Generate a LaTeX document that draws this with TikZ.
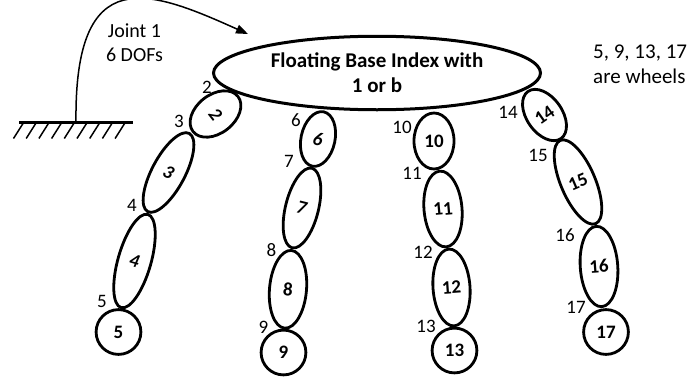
\documentclass[tikz,border=0pt]{standalone}
\usepackage{fontspec}
\setmainfont{Carlito}
\usetikzlibrary{shapes.geometric,arrows.meta}
\newcommand\myLbl{\fontsize{19}{23}\selectfont}
\newcommand\myNum{\fontsize{19}{23}\selectfont\bfseries}
\newcommand\myHead{\fontsize{21}{25}\selectfont\bfseries}
\newcommand\myNote{\fontsize{20}{23.5}\selectfont}
\newcommand\myWheel{\fontsize{21}{25}\selectfont}
\begin{document}
\begin{tikzpicture}[x=1pt,y=-1pt,
  link/.style={draw, ellipse, line width=2.8pt, inner sep=0pt, font=\myNum},
  wheel/.style={draw, circle, line width=2.8pt, inner sep=0pt, minimum size=44.8pt, font=\myNum},
  lbl/.style={inner sep=0pt, font=\myLbl},
  note/.style={inner sep=0pt, align=left},
  ground/.style={line width=2.6pt},
  hatch/.style={line width=1.5pt},
  joint/.style={line width=1.5pt, -{Triangle[length=12pt,width=9pt]}}
  ]
\useasboundingbox (0,0) rectangle (688,383);

% floating base
\node[draw, ellipse, line width=3pt, minimum width=327pt, minimum height=73.5pt,
      inner sep=0pt, align=center, font=\myHead] (base) at (377,73)
      {Floating Base Index with\\1 or b};

% ground and joint 1
\coordinate (gl) at (19,122.7);
\coordinate (gr) at (133,122.7);
\coordinate (gnd) at (76,122.7);
\coordinate (tip) at (248,34);
\draw[ground] (gl) -- (gr);
\foreach \i in {0,...,8}
  \draw[hatch] ({13.5+12.7*\i},138.5) -- ++(10,-15.8);
\draw[joint] (gnd) .. controls (74,-40) and (150,-10) .. (tip);
\node[note, font=\myNote, align=center] (jtext) at (134.5,42.5) {Joint 1\\6 DOFs};

% chain 1
\node[link, minimum width=38.5pt, minimum height=57pt, rotate=-52] (n2) at (215.5,114) {\textit{2}};
\node[link, minimum width=33pt, minimum height=88.5pt, rotate=-28] (n3) at (168.5,172.5) {\textit{3}};
\node[link, minimum width=33pt, minimum height=97pt, rotate=-16] (n4) at (134.5,261) {\textit{4}};
\node[wheel] (n5) at (118.5,332) {5};

% chain 2
\node[link, minimum width=34pt, minimum height=55.5pt, rotate=-12] (n6) at (318,139) {\textit{6}};
\node[link, minimum width=33pt, minimum height=82pt, rotate=-14] (n7) at (302,208) {\textit{7}};
\node[link, minimum width=37pt, minimum height=78pt, rotate=-5] (n8) at (288,289.3) {8};
\node[wheel] (n9) at (283.5,352.5) {9};

% chain 3
\node[link, minimum width=40pt, minimum height=56pt] (n10) at (434,141) {10};
\node[link, minimum width=38pt, minimum height=76pt, rotate=5] (n11) at (443,209) {11};
\node[link, minimum width=37pt, minimum height=77pt, rotate=4] (n12) at (451.5,287.5) {12};
\node[wheel] (n13) at (454.5,350.5) {13};

% chain 4
\node[link, minimum width=35.5pt, minimum height=57.5pt, rotate=35] (n14) at (544.5,115) {14};
\node[link, minimum width=34.5pt, minimum height=90.5pt, rotate=23] (n15) at (578,182) {15};
\node[link, minimum width=37.5pt, minimum height=80.5pt, rotate=4] (n16) at (599,266.5) {16};
\node[wheel] (n17) at (606,332) {17};

% joint labels
\node[lbl] (l2) at (207,87.5) {2};
\node[lbl] (l3) at (179,121) {3};
\node[lbl] (l4) at (132,205.5) {4};
\node[lbl] (l5) at (102,301.5) {5};
\node[lbl] (l6) at (296,120.5) {6};
\node[lbl] (l7) at (289,161.5) {7};
\node[lbl] (l8) at (271.5,250) {8};
\node[lbl] (l9) at (263.5,327) {9};
\node[lbl] (l10) at (402,127) {10};
\node[lbl] (l11) at (412,173.5) {11};
\node[lbl] (l12) at (423,252.5) {12};
\node[lbl] (l13) at (426,326) {13};
\node[lbl] (l14) at (508,112) {14};
\node[lbl] (l15) at (538,155) {15};
\node[lbl] (l16) at (565,235.5) {16};
\node[lbl] (l17) at (576,307.5) {17};

% note
\node[note, font=\myWheel, anchor=west] (wheels) at (593,64) {5, 9, 13, 17\\are wheels};
\end{tikzpicture}
\end{document}
